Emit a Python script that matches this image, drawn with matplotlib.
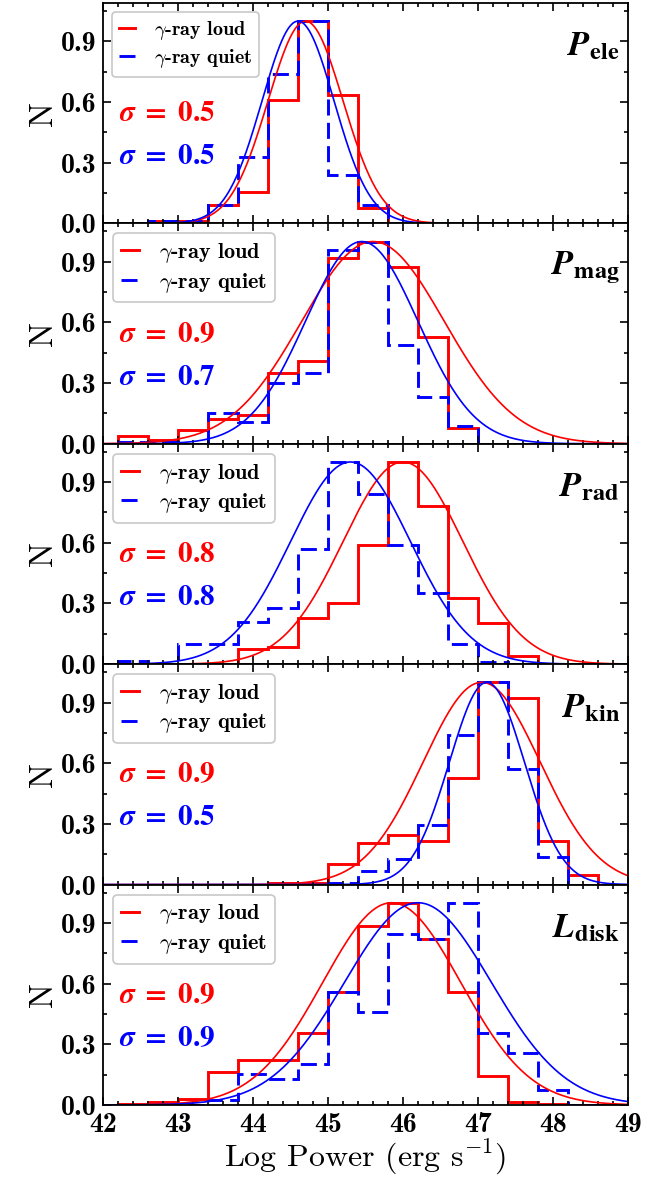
import numpy as np
import matplotlib
matplotlib.use('Agg')
import matplotlib.pyplot as plt
from matplotlib.ticker import FixedLocator, MultipleLocator, FormatStrFormatter

plt.rcParams['font.family'] = 'cmb10'
plt.rcParams['mathtext.fontset'] = 'cm'
plt.rcParams['axes.unicode_minus'] = False

# common bin edges (0.4 dex bins)
edges = [42.2, 42.6, 43.0, 43.4, 43.8, 44.2, 44.6, 45.0, 45.4, 45.8,
         46.2, 46.6, 47.0, 47.4, 47.8, 48.2, 48.6, 49.0]

labels = ['ele', 'mag', 'rad', 'kin', 'disk']
letters = ['P', 'P', 'P', 'P', 'L']

# normalised histograms, gamma-ray loud (red) and quiet (blue)
loud_ele = [0, 0.01, 0.01, 0.09, 0.157, 0.61, 1.0, 0.633, 0.078, 0, 0, 0, 0, 0, 0, 0, 0]
quiet_ele = [0, 0.01, 0.01, 0.09, 0.33, 0.74, 1.0, 0.237, 0.09, 0, 0, 0, 0, 0, 0, 0, 0]
loud_mag = [0.037, 0.02, 0.067, 0.123, 0.14, 0.35, 0.41, 0.917, 1.0, 0.875, 0.53, 0.078, 0, 0, 0, 0, 0]
quiet_mag = [0.008, 0.008, 0, 0.15, 0.11, 0.30, 0.35, 0.96, 1.0, 0.49, 0.233, 0.09, 0, 0, 0, 0, 0]
loud_rad = [0, 0, 0, 0, 0.073, 0.085, 0.23, 0.30, 0.59, 1.0, 0.78, 0.327, 0.205, 0.04, 0, 0, 0]
quiet_rad = [0.015, 0, 0.1, 0.1, 0.21, 0.28, 0.57, 1.0, 0.84, 0.59, 0.35, 0.1, 0.013, 0, 0, 0, 0]
loud_kin = [0, 0, 0, 0, 0, 0.01, 0.01, 0.1, 0.204, 0.246, 0.213, 0.528, 1.0, 0.925, 0.213, 0.045, 0]
quiet_kin = [0, 0, 0, 0, 0, 0, 0, 0.01, 0.065, 0.125, 0.296, 0.74, 1.0, 0.573, 0.138, 0, 0]
loud_disk = [0.005, 0.017, 0.03, 0.163, 0.224, 0.224, 0.357, 0.558, 0.885, 1.0, 0.82, 0.56, 0.143, 0.017, 0.005, 0, 0]
quiet_disk = [0, 0, 0, 0.025, 0.155, 0.126, 0.204, 0.558, 0.462, 0.844, 0.82, 1.0, 0.357, 0.257, 0.075, 0, 0]

loud = [loud_ele, loud_mag, loud_rad, loud_kin, loud_disk]
quiet = [quiet_ele, quiet_mag, quiet_rad, quiet_kin, quiet_disk]

# gaussian fits (mean, width)
mu_loud = [44.7, 45.6, 46.0, 47.05, 45.85]
sig_loud = [0.5, 0.95, 0.8, 0.78, 0.92]
mu_quiet = [44.6, 45.45, 45.3, 47.12, 46.2]
sig_quiet = [0.48, 0.75, 0.8, 0.5, 0.98]

# sigma values printed on the panels
sig_text_loud = ['0.5', '0.9', '0.8', '0.9', '0.9']
sig_text_quiet = ['0.5', '0.7', '0.8', '0.5', '0.9']

fig, axes = plt.subplots(5, 1, sharex=True, figsize=(6.7, 11.81), dpi=100)
plt.subplots_adjust(left=0.154, right=0.937, top=0.9975, bottom=0.0644, hspace=0)

x = np.linspace(42, 49, 500)

for i, ax in enumerate(axes):
    ax.stairs(loud[i], edges, color='red', lw=2.1, label=r'$\gamma$-ray loud')
    ax.stairs(quiet[i], edges, color='blue', lw=2.1, linestyle=(0, (5.5, 2.5)),
              label=r'$\gamma$-ray quiet')
    ax.plot(x, np.exp(-(x - mu_loud[i])**2 / (2 * sig_loud[i]**2)), color='red', lw=1.2)
    ax.plot(x, np.exp(-(x - mu_quiet[i])**2 / (2 * sig_quiet[i]**2)), color='blue', lw=1.2)

    ax.set_xlim(42, 49)
    ax.set_ylim(0, 1.09)
    ax.yaxis.set_major_locator(FixedLocator([0, 0.3, 0.6, 0.9]))
    ax.yaxis.set_minor_locator(MultipleLocator(0.15))
    ax.yaxis.set_major_formatter(FormatStrFormatter('%.1f'))
    ax.xaxis.set_major_locator(MultipleLocator(1))
    ax.xaxis.set_minor_locator(MultipleLocator(0.2))
    ax.tick_params(which='both', direction='in', top=True, right=True, labelsize=20, width=1.2)
    ax.tick_params(which='major', length=6, pad=5)
    ax.tick_params(which='minor', length=3)
    for s in ax.spines.values():
        s.set_linewidth(1.3)

    ax.set_ylabel('N', fontsize=24, family='cmr10', labelpad=2)

    fs = 14.5 if i == 0 else 16
    leg = ax.legend(loc='upper left', fontsize=fs, handlelength=0.8, borderaxespad=0.45,
                    borderpad=0.35, labelspacing=0.25, handletextpad=0.9, framealpha=1)
    leg.get_frame().set_edgecolor('#c8c8c8')
    leg.get_frame().set_linewidth(1.2)

    ax.text(0.03, 0.495, r'$\mathbfit{\sigma}\ \mathbf{=\ ' + sig_text_loud[i] + '}$',
            transform=ax.transAxes, color='red', fontsize=21, va='center', ha='left',
            math_fontfamily='stix')
    ax.text(0.03, 0.30, r'$\mathbfit{\sigma}\ \mathbf{=\ ' + sig_text_quiet[i] + '}$',
            transform=ax.transAxes, color='blue', fontsize=21, va='center', ha='left',
            math_fontfamily='stix')
    ax.text(0.985, 0.80, r'$\mathbfit{' + letters[i] + r'}_{\mathbf{' + labels[i] + '}}$',
            transform=ax.transAxes, color='black', fontsize=25, va='center', ha='right',
            math_fontfamily='stix')

axes[-1].set_xlabel(r'Log Power (erg s$^{-1}$)', fontsize=23, family='cmr10', labelpad=0)

fig.savefig('out.png', dpi=100)
